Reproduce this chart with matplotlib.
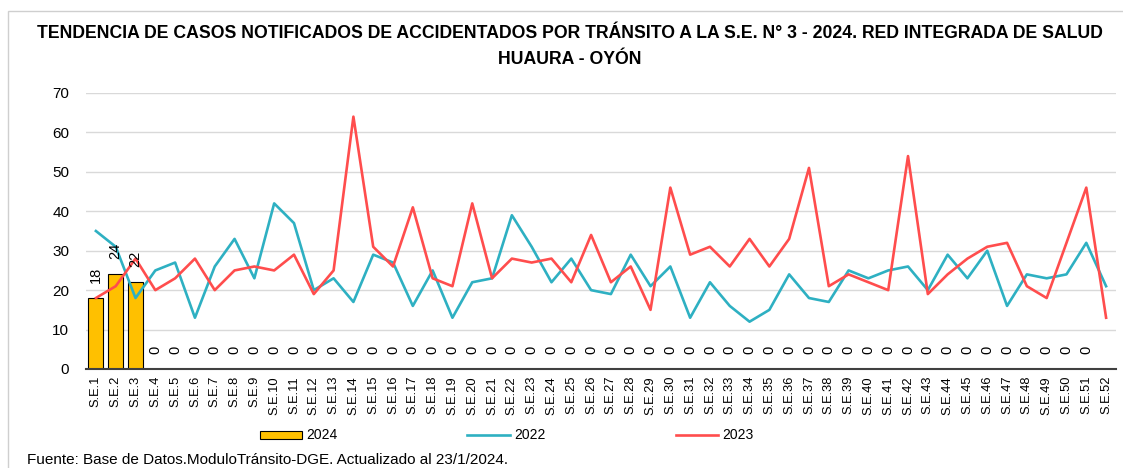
import numpy as np
import matplotlib
matplotlib.use("Agg")
import matplotlib.pyplot as plt
from matplotlib.patches import Rectangle
from matplotlib.lines import Line2D

plt.rcParams["font.family"] = ["Liberation Sans", "DejaVu Sans"]

semanas = ["S.E." + str(i) for i in range(1, 53)]

casos_2024 = [18, 24, 22, 0, 0, 0, 0, 0, 0, 0, 0, 0, 0, 0, 0, 0, 0, 0, 0, 0,
              0, 0, 0, 0, 0, 0, 0, 0, 0, 0, 0, 0, 0, 0, 0, 0, 0, 0, 0, 0,
              0, 0, 0, 0, 0, 0, 0, 0, 0, 0, 0, np.nan]
casos_2022 = [35, 31, 18, 25, 27, 13, 26, 33, 23, 42, 37, 20, 23, 17, 29, 27, 16, 25, 13, 22,
              23, 39, 31, 22, 28, 20, 19, 29, 21, 26, 13, 22, 16, 12, 15, 24, 18, 17, 25, 23,
              25, 26, 20, 29, 23, 30, 16, 24, 23, 24, 32, 21]
casos_2023 = [18, 21, 28, 20, 23, 28, 20, 25, 26, 25, 29, 19, 25, 64, 31, 26, 41, 23, 21, 42,
              23, 28, 27, 28, 22, 34, 22, 26, 15, 46, 29, 31, 26, 33, 26, 33, 51, 21, 24, 22,
              20, 54, 19, 24, 28, 31, 32, 21, 18, 32, 46, 13]

amarillo = "#FFC000"
turquesa = "#2EB0C2"
rojo = "#FF4D4D"

fig = plt.figure(figsize=(11.23, 4.68), dpi=100)
ax = fig.add_axes([86 / 1123, 1 - 369 / 468, 1030 / 1123, 276 / 468])

x = np.arange(len(semanas))
ax.bar(x, casos_2024, width=0.76, color=amarillo, edgecolor="black", linewidth=0.8, zorder=2)
ax.plot(x, casos_2022, color=turquesa, lw=1.9, zorder=3)
ax.plot(x, casos_2023, color=rojo, lw=1.9, zorder=3)

# etiquetas de 2024
for xi, v in zip(x, casos_2024):
    if np.isnan(v):
        continue
    ax.annotate(str(int(v)), (xi, v), xytext=(0, 11), textcoords="offset points",
                rotation=90, ha="center", va="bottom", fontsize=10.5, zorder=4)

ax.set_xlim(-0.5, len(semanas) - 0.5)
ax.set_ylim(0, 70)
ax.set_yticks(range(0, 71, 10))
ax.set_xticks(x)
ax.set_xticklabels(semanas, rotation=90, fontsize=9.3)
ax.tick_params(axis="both", length=0)
ax.tick_params(axis="y", labelsize=11, pad=12)
ax.tick_params(axis="x", pad=5)
ax.grid(axis="y", color="#D9D9D9", lw=1, zorder=0)
ax.set_axisbelow(True)
for s in ["top", "right", "left"]:
    ax.spines[s].set_visible(False)
ax.spines["bottom"].set_color("#404040")
ax.spines["bottom"].set_linewidth(1.5)

cx = 570 / 1123
fig.text(cx, 1 - 33 / 468, "TENDENCIA DE CASOS NOTIFICADOS DE ACCIDENTADOS POR TRÁNSITO A LA S.E. N° 3 - 2024. RED INTEGRADA DE SALUD",
         ha="center", va="center", fontsize=12.7, fontweight="bold")
fig.text(cx, 1 - 59 / 468, "HUAURA - OYÓN", ha="center", va="center", fontsize=12.7, fontweight="bold")

# leyenda manual
ly = 1 - 435 / 468
fig.patches.append(Rectangle((260 / 1123, ly - 4 / 468), 42 / 1123, 8 / 468, transform=fig.transFigure,
                             facecolor=amarillo, edgecolor="black", lw=0.8))
fig.text(306 / 1123, ly, "2024", va="center", fontsize=10)
fig.lines.append(Line2D([467 / 1123, 510 / 1123], [ly, ly], transform=fig.transFigure, color=turquesa, lw=1.9))
fig.text(514 / 1123, ly, "2022", va="center", fontsize=10)
fig.lines.append(Line2D([676 / 1123, 718 / 1123], [ly, ly], transform=fig.transFigure, color=rojo, lw=1.9))
fig.text(722 / 1123, ly, "2023", va="center", fontsize=10)

fig.text(27 / 1123, 1 - 460 / 468, "Fuente: Base de Datos.ModuloTránsito-DGE. Actualizado al 23/1/2024.",
         va="center", fontsize=11)

# borde del gráfico
fig.patches.append(Rectangle((8 / 1123, -0.05), 1.1, 1 - 11 / 468 + 0.05, transform=fig.transFigure,
                             facecolor="none", edgecolor="#CFCFCF", lw=1))

fig.savefig("out.png", dpi=100)
